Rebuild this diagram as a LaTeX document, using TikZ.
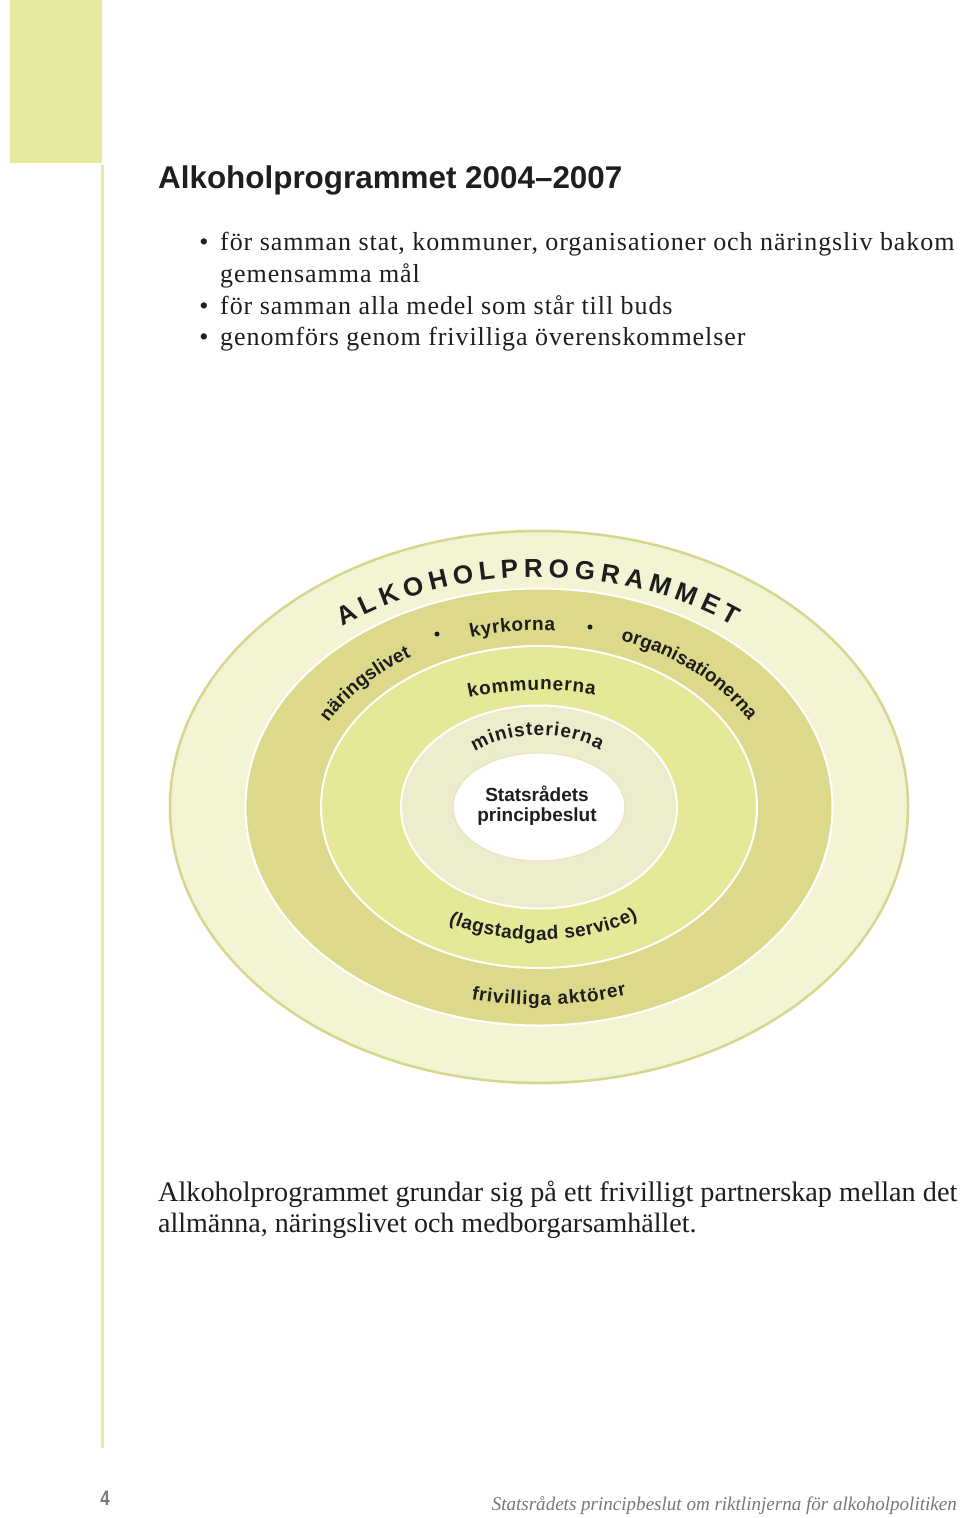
\documentclass[tikz,border=0pt]{standalone}
\usepackage{fontspec}
\setmainfont{Liberation Serif}
\newfontfamily\hsans{Liberation Sans}
\newfontfamily\bodyserif[LetterSpace=3.6]{Liberation Serif}
\newfontfamily\paraserif{Liberation Serif}
\usetikzlibrary{decorations.text}
\definecolor{barcol}{RGB}{230,233,158}
\definecolor{ringA}{RGB}{243,244,212}
\definecolor{ringAedge}{RGB}{214,214,140}
\definecolor{ringB}{RGB}{220,217,138}
\definecolor{ringC}{RGB}{229,232,150}
\definecolor{ringD}{RGB}{237,236,204}
\definecolor{footgray}{RGB}{120,120,120}
\definecolor{ink}{RGB}{30,30,30}
\newcommand\ringfont{\hsans\bfseries\fontsize{19}{19}\selectfont\color{ink}}
\newcommand\bigringfont{\hsans\bfseries\fontsize{26}{26}\selectfont\color{ink}}
\begin{document}
\begin{tikzpicture}[x=1pt,y=1pt,
  bodyline/.style={anchor=base west, inner sep=0, font=\bodyserif\fontsize{26}{26}\selectfont, text=ink},
  bulletmark/.style={anchor=base, inner sep=0, font=\bodyserif\fontsize{26}{26}\selectfont, text=ink},
  paraline/.style={anchor=base west, inner sep=0, font=\paraserif\fontsize{28}{28}\selectfont, text=ink},
  curved/.style={decorate, decoration={text along path, text align=fit to path, text={#1}}},
  sepdot/.style={circle, fill=ink, inner sep=0, minimum size=5}]
\useasboundingbox (0,0) rectangle (960,-1518);
\fill[white] (0,0) rectangle (960,-1518);
% side decoration
\fill[barcol] (10,0) rectangle (102,-163);
\draw[barcol, line width=2.5] (102.5,-165) -- (102.5,-1448);
% title and bullets
\node[anchor=base west, inner sep=0, font=\hsans\bfseries\fontsize{31.4}{31.4}\selectfont, text=ink] (title) at (158,-188) {Alkoholprogrammet 2004–2007};
\node[bulletmark] (m1) at (204,-250) {•};
\node[bulletmark] (m3) at (204,-314) {•};
\node[bulletmark] (m4) at (204,-345) {•};
\node[bodyline] (l1) at (220,-250) {för samman stat, kommuner, organisationer och näringsliv bakom};
\node[bodyline] (l2) at (220,-282) {gemensamma mål};
\node[bodyline] (l3) at (220,-314) {för samman alla medel som står till buds};
\node[bodyline] (l4) at (220,-345) {genomförs genom frivilliga överenskommelser};
% rings
\coordinate (C) at (539,-807);
\filldraw[fill=ringA, draw=ringAedge, line width=2.5] (C) ellipse[x radius=369, y radius=276];
\filldraw[fill=ringB, draw=white, line width=2] (C) ellipse[x radius=293.5, y radius=218.5];
\filldraw[fill=ringC, draw=white, line width=2] (C) ellipse[x radius=218, y radius=161];
\filldraw[fill=ringD, draw=white, line width=2] (C) ellipse[x radius=138, y radius=101.5];
\filldraw[fill=white, draw=ringAedge!60, line width=1] (C) ellipse[x radius=86, y radius=54];
\node[align=center, inner sep=0, font=\hsans\bfseries\fontsize{19}{20}\selectfont, text=ink] (core) at (537,-806) {Statsrådets\\principbeslut};
% curved labels
\path[curved={|\bigringfont|ALKOHOLPROGRAMMET}]
  ([shift={(C)}]128.5:316pt and 230pt) arc[start angle=128.5, end angle=52, x radius=316, y radius=230];
\path[curved={|\ringfont|näringslivet}]
  ([shift={(C)}]151.4:240pt and 177pt) arc[start angle=151.4, end angle=122.4, x radius=240, y radius=177];
\path[curved={|\ringfont|kyrkorna}]
  ([shift={(C)}]106.5:240pt and 177pt) arc[start angle=106.5, end angle=86.2, x radius=240, y radius=177];
\path[curved={|\ringfont|organisationerna}]
  ([shift={(C)}]70.1:240pt and 177pt) arc[start angle=70.1, end angle=30.1, x radius=240, y radius=177];
\node[sepdot] (dot1) at (437,-634) {};
\node[sepdot] (dot2) at (590,-627) {};
\path[curved={|\ringfont|kommunerna}]
  ([shift={(C)}]110.5:200pt and 117pt) arc[start angle=110.5, end angle=73.8, x radius=200, y radius=117];
\path[curved={|\ringfont|ministerierna}]
  ([shift={(C)}]129.9:100pt and 72pt) arc[start angle=129.9, end angle=52.4, x radius=100, y radius=72];
\path[curved={|\ringfont|(lagstadgad service)}]
  ([shift={(C)}]240.7:185pt and 133pt) arc[start angle=240.7, end angle=302.4, x radius=185, y radius=133];
\path[curved={|\ringfont|frivilliga aktörer}]
  ([shift={(C)}]256:280pt and 198pt) arc[start angle=256, end angle=288.2, x radius=280, y radius=198];
% closing paragraph
\node[paraline] (p1) at (158,-1201) {\resizebox{799pt}{!}{Alkoholprogrammet grundar sig på ett frivilligt partnerskap mellan det}};
\node[paraline] (p2) at (158,-1232) {allmänna, näringslivet och medborgarsamhället.};
% footer
\node[anchor=base, inner sep=0, font=\hsans\bfseries\fontsize{21}{21}\selectfont, text=footgray] (pgno) at (105,-1505) {\scalebox{0.8}[1]{4}};
\node[anchor=base east, inner sep=0, font=\itshape\fontsize{20}{20}\selectfont, text=footgray] (foot) at (957,-1510) {\resizebox{465pt}{14pt}{Statsrådets principbeslut om riktlinjerna för alkoholpolitiken}};
\end{tikzpicture}
\end{document}
